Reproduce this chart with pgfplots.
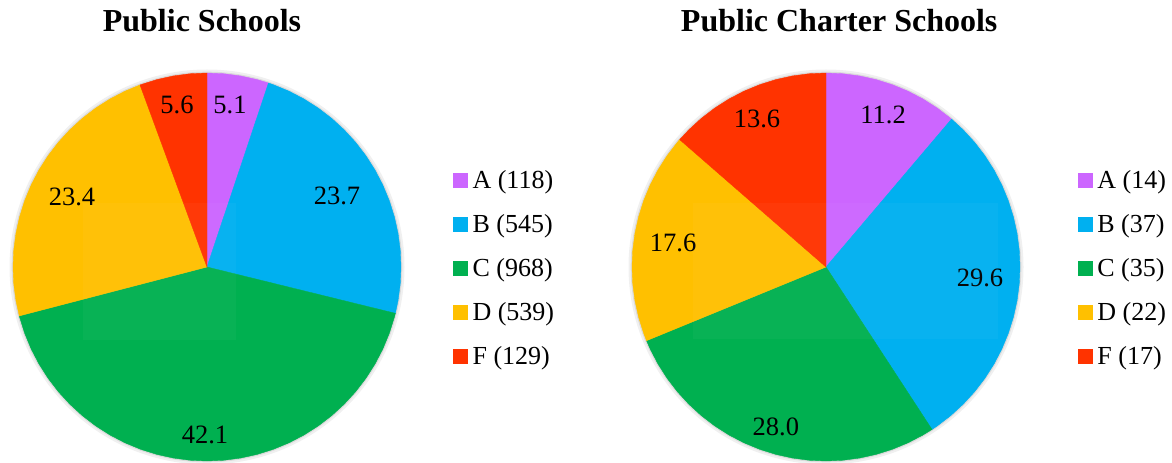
\documentclass[border=0pt]{standalone}
\usepackage{fontspec}
\setmainfont{Liberation Serif}
\usepackage{pgfplots}
\pgfplotsset{compat=1.18}
\usepgfplotslibrary{polar}

\definecolor{gA}{HTML}{CC66FF}
\definecolor{gB}{HTML}{00B0F0}
\definecolor{gC}{HTML}{00B050}
\definecolor{gD}{HTML}{FFC000}
\definecolor{gF}{HTML}{FF3300}

% polar axes: x = angle (deg, clockwise from 12 o'clock), y = radius
\pgfplotsset{
  pie/.style={
    scale only axis, width=388bp, height=388bp, hide axis,
    ymin=0, ymax=1, anchor=origin, clip=false,
    title style={font=\fontsize{32bp}{36bp}\selectfont\bfseries, anchor=base, yshift=0pt},
    legend style={draw=none, fill=none, inner sep=0pt, anchor=west,
      font=\fontsize{26bp}{30bp}\selectfont, row sep=20bp, column sep=5bp,
      nodes={inner sep=0pt, text height=18bp, text depth=6bp}},
    legend cell align=left,
    legend image code/.code={\fill[##1] (0bp,-5bp) rectangle (14bp,9bp);},
  },
  slice/.style={fill=#1, draw=#1, line width=0.4bp},
  lbl/.style={only marks, mark=none, forget plot, nodes near coords,
    point meta=explicit symbolic,
    every node near coord/.append style={anchor=center, inner sep=0pt,
      font=\fontsize{26.5bp}{30bp}\selectfont}},
}

\begin{document}
\begin{tikzpicture}
\path[use as bounding box] (0,0) rectangle (1172bp,463bp);
% soft edge shadow
\fill[black!6] (207bp,196bp) circle (197.5bp);
\fill[black!14] (207bp,196bp) circle (195.3bp);
\fill[black!6] (826bp,196bp) circle (197.5bp);
\fill[black!14] (826bp,196bp) circle (195.3bp);

% Public Schools: A 118, B 545, C 968, D 539, F 129 (of 2299)
\begin{polaraxis}[pie, at={(207bp,196bp)},
  title={Public Schools}, title style={at={(0.487,1.071)}},
  legend style={at={(1.134,0.492)}}]
\addplot[slice=gA] coordinates {(0,0) (90,1) (85,1) (80,1) (75,1) (71.52,1)} -- cycle;
\addlegendentry{A (118)}
\addplot[slice=gB] coordinates {(0,0) (71.52,1) (70,1) (65,1) (60,1) (55,1) (50,1) (45,1) (40,1) (35,1) (30,1) (25,1) (20,1) (15,1) (10,1) (5,1) (0,1) (-5,1) (-10,1) (-13.82,1)} -- cycle;
\addlegendentry{B (545)}
\addplot[slice=gC] coordinates {(0,0) (-13.82,1) (-15,1) (-20,1) (-25,1) (-30,1) (-35,1) (-40,1) (-45,1) (-50,1) (-55,1) (-60,1) (-65,1) (-70,1) (-75,1) (-80,1) (-85,1) (-90,1) (-95,1) (-100,1) (-105,1) (-110,1) (-115,1) (-120,1) (-125,1) (-130,1) (-135,1) (-140,1) (-145,1) (-150,1) (-155,1) (-160,1) (-165,1) (-165.40,1)} -- cycle;
\addlegendentry{C (968)}
\addplot[slice=gD] coordinates {(0,0) (-165.40,1) (-170,1) (-175,1) (-180,1) (-185,1) (-190,1) (-195,1) (-200,1) (-205,1) (-210,1) (-215,1) (-220,1) (-225,1) (-230,1) (-235,1) (-240,1) (-245,1) (-249.80,1)} -- cycle;
\addlegendentry{D (539)}
\addplot[slice=gF] coordinates {(0,0) (-249.80,1) (-250,1) (-255,1) (-260,1) (-265,1) (-270,1)} -- cycle;
\addlegendentry{F (129)}
\addplot[lbl] coordinates {(81.9,0.843) [5.1] (28.6,0.763) [23.7] (-90.7,0.866) [42.1] (152.6,0.784) [23.4] (100.5,0.849) [5.6]};
\end{polaraxis}

% Public Charter Schools: A 14, B 37, C 35, D 22, F 17 (of 125)
\begin{polaraxis}[pie, at={(826bp,196bp)},
  title={Public Charter Schools}, title style={at={(0.534,1.071)}},
  legend style={at={(1.149,0.492)}}]
\addplot[slice=gA] coordinates {(0,0) (90,1) (85,1) (80,1) (75,1) (70,1) (65,1) (60,1) (55,1) (50,1) (49.68,1)} -- cycle;
\addlegendentry{A (14)}
\addplot[slice=gB] coordinates {(0,0) (49.68,1) (45,1) (40,1) (35,1) (30,1) (25,1) (20,1) (15,1) (10,1) (5,1) (0,1) (-5,1) (-10,1) (-15,1) (-20,1) (-25,1) (-30,1) (-35,1) (-40,1) (-45,1) (-50,1) (-55,1) (-56.88,1)} -- cycle;
\addlegendentry{B (37)}
\addplot[slice=gC] coordinates {(0,0) (-56.88,1) (-60,1) (-65,1) (-70,1) (-75,1) (-80,1) (-85,1) (-90,1) (-95,1) (-100,1) (-105,1) (-110,1) (-115,1) (-120,1) (-125,1) (-130,1) (-135,1) (-140,1) (-145,1) (-150,1) (-155,1) (-157.68,1)} -- cycle;
\addlegendentry{C (35)}
\addplot[slice=gD] coordinates {(0,0) (-157.68,1) (-160,1) (-165,1) (-170,1) (-175,1) (-180,1) (-185,1) (-190,1) (-195,1) (-200,1) (-205,1) (-210,1) (-215,1) (-220,1) (-221.04,1)} -- cycle;
\addlegendentry{D (22)}
\addplot[slice=gF] coordinates {(0,0) (-221.04,1) (-225,1) (-230,1) (-235,1) (-240,1) (-245,1) (-250,1) (-255,1) (-260,1) (-265,1) (-270,1)} -- cycle;
\addlegendentry{F (17)}
\addplot[lbl] coordinates {(69.4,0.837) [11.2] (-4.1,0.796) [29.6] (-107.4,0.864) [28.0] (171.1,0.798) [17.6] (115.0,0.842) [13.6]};
\end{polaraxis}

% faint gloss patches
\fill[white, opacity=0.03] (83bp,123bp) rectangle (236bp,260bp);
\fill[white, opacity=0.03] (693bp,124bp) rectangle (998bp,260bp);
\end{tikzpicture}
\end{document}
